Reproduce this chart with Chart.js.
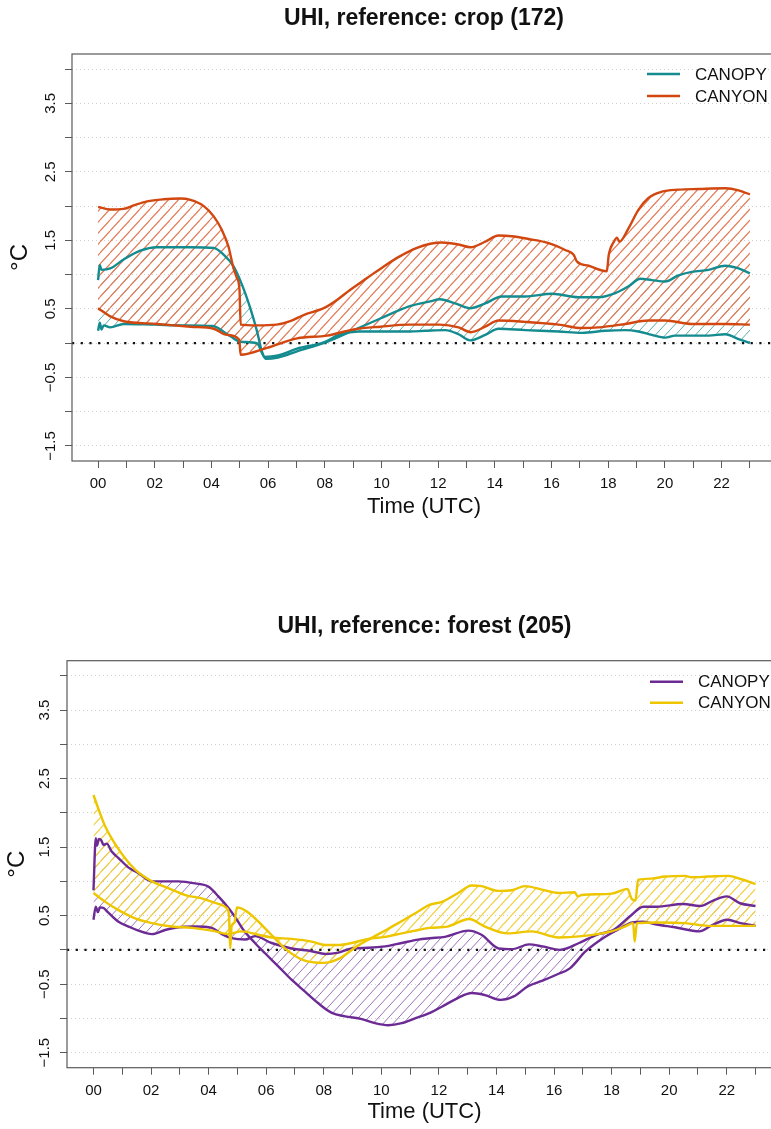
<!DOCTYPE html>
<html>
<head>
<meta charset="utf-8">
<script src="https://cdn.jsdelivr.net/npm/chart.js@4.4.1/dist/chart.umd.min.js"></script>
<style>
html, body { margin: 0; padding: 0; background: #ffffff; width: 771px; height: 1129px; overflow: hidden; }
.wrap { position: absolute; left: 0; width: 800px; }
canvas { display: block; }
</style>
</head>
<body>
<div class="wrap" style="top:0;height:565px"><canvas id="cropChart" width="800" height="565"></canvas></div>
<div class="wrap" style="top:565px;height:564px"><canvas id="forestChart" width="800" height="564"></canvas></div>
<script>
// ---------- tick definitions ----------
const hourTicks = [0,1,2,3,4,5,6,7,8,9,10,11,12,13,14,15,16,17,18,19,20,21,22,23];
const xTickLabels = ['00','','02','','04','','06','','08','','10','','12','','14','','16','','18','','20','','22',''];
const yTickValues = [-1.5,-1,-0.5,0,0.5,1,1.5,2,2.5,3,3.5,4];
const yTickLabels = ['\u22121.5','','\u22120.5','','0.5','','1.5','','2.5','','3.5',''];
const legendLabels = ['CANOPY','CANYON'];
const chartTitles = ['UHI, reference: crop (172)', 'UHI, reference: forest (205)'];
const xAxisTitle = 'Time (UTC)';
const yAxisTitle = '\u00B0C';

// ---------- crop (172) ----------
const cropCanyonHiHours  = [0,0.43,0.9,1.26,1.73,2.31,2.9,3.26,3.73,4.08,4.37,4.6,4.78,4.9,4.99,5.03,5.6,6.3,6.78,7.25,7.96,8.43,8.9,9.49,10.08,10.66,11.25,11.72,12.13,12.72,13.14,13.66,14.13,14.6,15.19,15.9,16.48,16.78,16.9,17.31,17.95,18.02,18.2,18.31,18.39,18.72,19.07,19.42,19.89,20.48,21.19,22.13,22.6,23.0];
const cropCanyonHiValues = [1.99,1.95,1.96,2.01,2.07,2.10,2.11,2.09,2.00,1.85,1.65,1.41,1.09,0.95,0.78,0.27,0.26,0.27,0.32,0.41,0.51,0.63,0.78,0.95,1.12,1.27,1.39,1.45,1.47,1.44,1.40,1.48,1.57,1.56,1.52,1.46,1.36,1.29,1.19,1.13,1.05,1.29,1.48,1.54,1.48,1.68,1.95,2.12,2.21,2.24,2.25,2.26,2.23,2.17];
const cropCanyonLoHours  = [0,0.43,0.9,2.08,3.26,4.08,4.55,4.98,5.03,5.96,7.02,8.08,9.02,9.96,11.0,12.06,12.72,13.15,13.66,14.13,15.07,16.25,17.07,17.66,18.6,19.42,20.01,20.95,22.13,23.0];
const cropCanyonLoValues = [0.51,0.39,0.32,0.28,0.24,0.21,0.12,0.05,-0.17,-0.07,0.07,0.11,0.20,0.24,0.27,0.27,0.23,0.16,0.24,0.33,0.31,0.27,0.22,0.23,0.28,0.33,0.33,0.28,0.28,0.27];
const cropCanopyHiHours  = [0,0.06,0.12,0.43,0.9,1.49,2.08,3.26,4.08,4.43,4.78,5.08,5.37,5.61,5.78,5.92,6.35,7.02,8.08,9.02,9.96,11.0,11.72,12.06,12.6,13.12,13.66,14.25,15.07,16.02,16.95,17.66,18.25,18.72,19.13,19.54,20.01,20.48,20.95,21.54,22.13,22.6,23.0];
const cropCanopyHiValues = [0.92,1.14,1.07,1.09,1.22,1.35,1.40,1.40,1.39,1.29,1.12,0.85,0.51,0.17,-0.12,-0.23,-0.21,-0.12,0.02,0.19,0.36,0.54,0.61,0.64,0.58,0.51,0.58,0.68,0.68,0.72,0.67,0.67,0.73,0.83,0.94,0.92,0.90,0.99,1.04,1.07,1.13,1.09,1.02];
const cropCanopyLoHours  = [0,0.06,0.12,0.2,0.43,0.9,2.0,3.0,4.04,4.67,5.03,5.6,5.88,6.35,7.02,7.96,8.55,9.2,10.0,11.0,11.55,12.25,12.72,13.13,13.66,14.13,15.07,16.25,17.07,17.9,18.6,19.07,19.54,20.01,20.36,21.54,22.13,22.6,23.0];
const cropCanopyLoValues = [0.18,0.30,0.20,0.26,0.23,0.28,0.27,0.26,0.25,0.10,0.02,0.0,-0.2,-0.18,-0.08,0.01,0.13,0.17,0.17,0.17,0.18,0.19,0.13,0.04,0.12,0.21,0.19,0.17,0.15,0.18,0.19,0.17,0.12,0.08,0.11,0.11,0.13,0.06,0.0];

// ---------- forest (205) ----------
const forestCanyonAHours  = [0,0.23,0.41,0.87,1.45,2.03,2.6,3.19,3.76,4.34,4.63,4.71,4.75,4.8,4.9,4.98,5.33,5.9,6.25,6.71,7.29,7.99,8.57,9.14,9.95,10.59,11.28,11.69,12.1,12.67,13.14,13.48,14.06,14.53,14.99,15.57,16.15,16.72,16.82,16.96,18.0,18.55,18.69,18.83,18.92,19.39,19.85,20.55,20.78,21.36,22.05,22.51,23.0];
const forestCanyonAValues = [2.26,1.99,1.80,1.47,1.17,1.0,0.90,0.80,0.75,0.67,0.61,0.49,0.02,0.35,0.40,0.62,0.56,0.34,0.19,0.0,-0.15,-0.19,-0.12,0.05,0.24,0.39,0.56,0.66,0.70,0.83,0.94,0.93,0.86,0.87,0.93,0.88,0.83,0.84,0.78,0.80,0.82,0.89,0.75,0.72,1.02,1.04,1.07,1.08,1.06,1.07,1.08,1.03,0.96];
const forestCanyonBHours  = [0,0.41,0.87,1.45,2.03,2.72,3.42,4.11,4.69,5.15,5.73,6.2,6.89,7.58,8.05,8.51,8.97,9.55,10.13,10.71,11.28,11.69,12.3,13.05,13.6,14.4,15.22,16.15,16.96,18.0,18.46,18.75,18.8,18.88,19.62,20.55,21.36,21.94,23.0];
const forestCanyonBValues = [0.83,0.70,0.58,0.46,0.39,0.34,0.32,0.28,0.23,0.27,0.22,0.18,0.16,0.12,0.07,0.07,0.10,0.16,0.19,0.24,0.29,0.32,0.34,0.45,0.34,0.24,0.27,0.18,0.20,0.27,0.34,0.39,0.12,0.39,0.40,0.39,0.35,0.35,0.35];
const forestCanopyAHours  = [0,0.08,0.12,0.19,0.27,0.35,0.46,0.64,0.87,1.22,1.56,2.03,2.37,2.95,3.53,4.0,4.34,4.69,4.98,5.21,5.61,5.96,6.42,6.89,7.35,7.81,8.28,8.74,9.32,9.78,10.24,10.71,11.17,11.69,12.1,12.67,13.14,13.6,14.15,14.6,15.1,15.6,16.1,16.55,17.1,17.7,18.2,18.72,19.1,19.56,20.2,21.05,21.45,22.02,22.48,23.0];
const forestCanopyAValues = [0.87,1.63,1.52,1.62,1.60,1.53,1.55,1.43,1.34,1.20,1.12,1.0,1.0,1.0,0.97,0.92,0.78,0.61,0.44,0.29,0.10,-0.05,-0.24,-0.44,-0.61,-0.78,-0.92,-0.97,-1.01,-1.07,-1.10,-1.07,-1.0,-0.92,-0.83,-0.70,-0.63,-0.66,-0.73,-0.68,-0.53,-0.45,-0.36,-0.27,-0.02,0.17,0.29,0.40,0.41,0.37,0.33,0.27,0.35,0.44,0.39,0.35];
const forestCanopyBHours  = [0,0.08,0.15,0.23,0.35,0.5,0.87,1.22,1.56,2.03,2.49,2.95,3.53,4.11,4.46,4.8,5.27,5.61,6.19,6.89,7.58,8.05,8.51,8.97,9.55,10.13,10.71,11.28,11.69,12.21,13.02,13.48,14.08,14.55,15.13,15.6,16.2,16.87,17.48,18.06,18.64,19.1,19.56,20.49,21.07,21.53,22.0,22.46,23.0];
const forestCanopyBValues = [0.44,0.63,0.55,0.62,0.61,0.55,0.41,0.34,0.28,0.23,0.29,0.33,0.34,0.32,0.23,0.17,0.15,0.20,0.10,0.02,-0.02,-0.06,-0.04,0.02,0.03,0.05,0.10,0.15,0.17,0.19,0.28,0.22,0.02,0.01,0.08,0.05,0.0,0.10,0.22,0.29,0.49,0.63,0.63,0.67,0.64,0.72,0.78,0.68,0.64];

const zeroLineHours = [-0.92, 23.92];
const zeroLineValues = [0, 0];

// ---------- styling ----------
const FONT = "'Liberation Sans', Arial, Helvetica, sans-serif";
const X_MIN = -0.92, X_MAX = 23.92, Y_MIN = -1.72, Y_MAX = 4.22;

function toXY(h, v) { return h.map((x, i) => ({ x: x, y: v[i] })); }

function hatch(color, lw) {
  const w = 10, h = 11;
  const c = document.createElement('canvas');
  c.width = w; c.height = h;
  const g = c.getContext('2d');
  g.strokeStyle = color; g.lineWidth = lw;
  g.beginPath();
  [-w, 0, w].forEach(dx => { g.moveTo(dx, h); g.lineTo(dx + w, 0); });
  g.stroke();
  return g.createPattern(c, 'repeat');
}

const decorPlugin = {
  id: 'decor',
  afterDraw(chart, args, o) {
    const ctx = chart.ctx, a = chart.chartArea, ys = chart.scales.y;
    const cx = (a.left + a.right) / 2;
    ctx.save();
    ctx.strokeStyle = '#5a5a5a'; ctx.lineWidth = 1.2;
    ctx.strokeRect(a.left, a.top, a.right - a.left, a.bottom - a.top);
    ctx.fillStyle = '#111';
    ctx.textAlign = 'center'; ctx.textBaseline = 'middle';
    ctx.font = 'bold 23px ' + FONT;
    ctx.fillText(o.title, cx, a.top + o.titleDy);
    ctx.font = '22px ' + FONT;
    ctx.fillText(xAxisTitle, cx, a.bottom + o.xTitleDy);
    ctx.font = '15px ' + FONT;
    yTickValues.forEach((v, i) => {
      const lab = yTickLabels[i];
      if (!lab) return;
      ctx.save();
      ctx.translate(a.left - o.yLabelDx, ys.getPixelForValue(v));
      ctx.rotate(-Math.PI / 2);
      ctx.fillText(lab, 0, 0);
      ctx.restore();
    });
    ctx.font = '24px ' + FONT;
    ctx.save();
    ctx.translate(o.yTitleX, (a.top + a.bottom) / 2);
    ctx.rotate(-Math.PI / 2);
    ctx.fillText(yAxisTitle, 0, 0);
    ctx.restore();
    // legend
    ctx.font = '17px ' + FONT;
    ctx.textAlign = 'left';
    o.legendColors.forEach((col, i) => {
      const y = a.top + o.legendDy + i * o.legendGap;
      ctx.strokeStyle = col; ctx.lineWidth = 2.4;
      ctx.beginPath(); ctx.moveTo(o.legendX, y); ctx.lineTo(o.legendX + 33, y); ctx.stroke();
      ctx.fillStyle = '#111';
      ctx.fillText(legendLabels[i], o.legendX + 48, y + 1);
    });
    ctx.restore();
  }
};

function lineDs(label, data, color, fill) {
  return {
    label: label, data: data, borderColor: color, borderWidth: 2.4,
    pointRadius: 0, cubicInterpolationMode: 'monotone',
    fill: fill ? { target: fill.target } : false,
    backgroundColor: fill ? fill.pattern : 'transparent'
  };
}

function makeChart(id, cfg) {
  return new Chart(document.getElementById(id), {
    type: 'line',
    data: { datasets: cfg.datasets },
    options: {
      responsive: false, animation: false, devicePixelRatio: 1, events: [],
      layout: { padding: cfg.padding },
      plugins: {
        legend: { display: false }, tooltip: { enabled: false }, title: { display: false },
        filler: { drawTime: 'beforeDatasetsDraw', propagate: false },
        decor: cfg.decor
      },
      scales: {
        x: {
          type: 'linear', min: X_MIN, max: X_MAX,
          afterBuildTicks: s => { s.ticks = hourTicks.map(v => ({ value: v })); },
          afterFit: s => { s.height = 60; },
          ticks: { autoSkip: false, maxRotation: 0, minRotation: 0, padding: 7, color: '#111',
                   font: { family: FONT, size: 15 }, callback: (v, i) => xTickLabels[i] },
          grid: { drawOnChartArea: false, drawTicks: true, tickLength: 7, tickColor: '#5a5a5a', tickWidth: 1 },
          border: { display: false }
        },
        y: {
          type: 'linear', min: Y_MIN, max: Y_MAX,
          afterBuildTicks: s => { s.ticks = yTickValues.map(v => ({ value: v })); },
          afterFit: s => { s.width = cfg.yWidth; },
          ticks: { display: false },
          grid: { color: '#cfcfcf', lineWidth: 1, drawTicks: true, tickLength: 7, tickColor: '#5a5a5a', tickWidth: 1, tickBorderDash: [] },
          border: { display: false, dash: [1, 3] }
        }
      }
    },
    plugins: [decorPlugin]
  });
}

const cropCanyonColor = '#d1470f', cropCanopyColor = '#138b8f';
const forestCanyonColor = '#edc600', forestCanopyColor = '#6c2b94';
const zeroDs = { label: 'zero', data: toXY(zeroLineHours, zeroLineValues), borderColor: '#111', borderWidth: 2.2,
                 borderDash: [2.2, 6.5], pointRadius: 0, fill: false };

makeChart('cropChart', {
  padding: { left: 0, right: 24, top: 54, bottom: 44 },
  yWidth: 72,
  datasets: [
    lineDs('CANYON', toXY(cropCanyonHiHours, cropCanyonHiValues), cropCanyonColor, { target: 1, pattern: hatch('rgb(226,124,88)', 1.2) }),
    lineDs('CANYON lo', toXY(cropCanyonLoHours, cropCanyonLoValues), cropCanyonColor, null),
    lineDs('CANOPY', toXY(cropCanopyHiHours, cropCanopyHiValues), cropCanopyColor, { target: 3, pattern: hatch('rgb(90,172,172)', 1.0) }),
    lineDs('CANOPY lo', toXY(cropCanopyLoHours, cropCanopyLoValues), cropCanopyColor, null),
    Object.assign({}, zeroDs)
  ],
  decor: { title: chartTitles[0], titleDy: -35, xTitleDy: 46, yLabelDx: 21, yTitleX: 20,
           legendX: 647, legendDy: 20, legendGap: 22, legendColors: [cropCanopyColor, cropCanyonColor] }
});

makeChart('forestChart', {
  padding: { left: 0, right: 18, top: 95.7, bottom: 1.3 },
  yWidth: 67,
  datasets: [
    lineDs('CANYON', toXY(forestCanyonAHours, forestCanyonAValues), forestCanyonColor, { target: 1, pattern: hatch('rgb(242,210,70)', 1.2) }),
    lineDs('CANYON b', toXY(forestCanyonBHours, forestCanyonBValues), forestCanyonColor, null),
    lineDs('CANOPY', toXY(forestCanopyAHours, forestCanopyAValues), forestCanopyColor, { target: 3, pattern: hatch('rgb(155,115,186)', 1.0) }),
    lineDs('CANOPY b', toXY(forestCanopyBHours, forestCanopyBValues), forestCanopyColor, null),
    Object.assign({}, zeroDs)
  ],
  decor: { title: chartTitles[1], titleDy: -34, xTitleDy: 44, yLabelDx: 22, yTitleX: 17,
           legendX: 650, legendDy: 21, legendGap: 21, legendColors: [forestCanopyColor, forestCanyonColor] }
});
</script>
</body>
</html>
